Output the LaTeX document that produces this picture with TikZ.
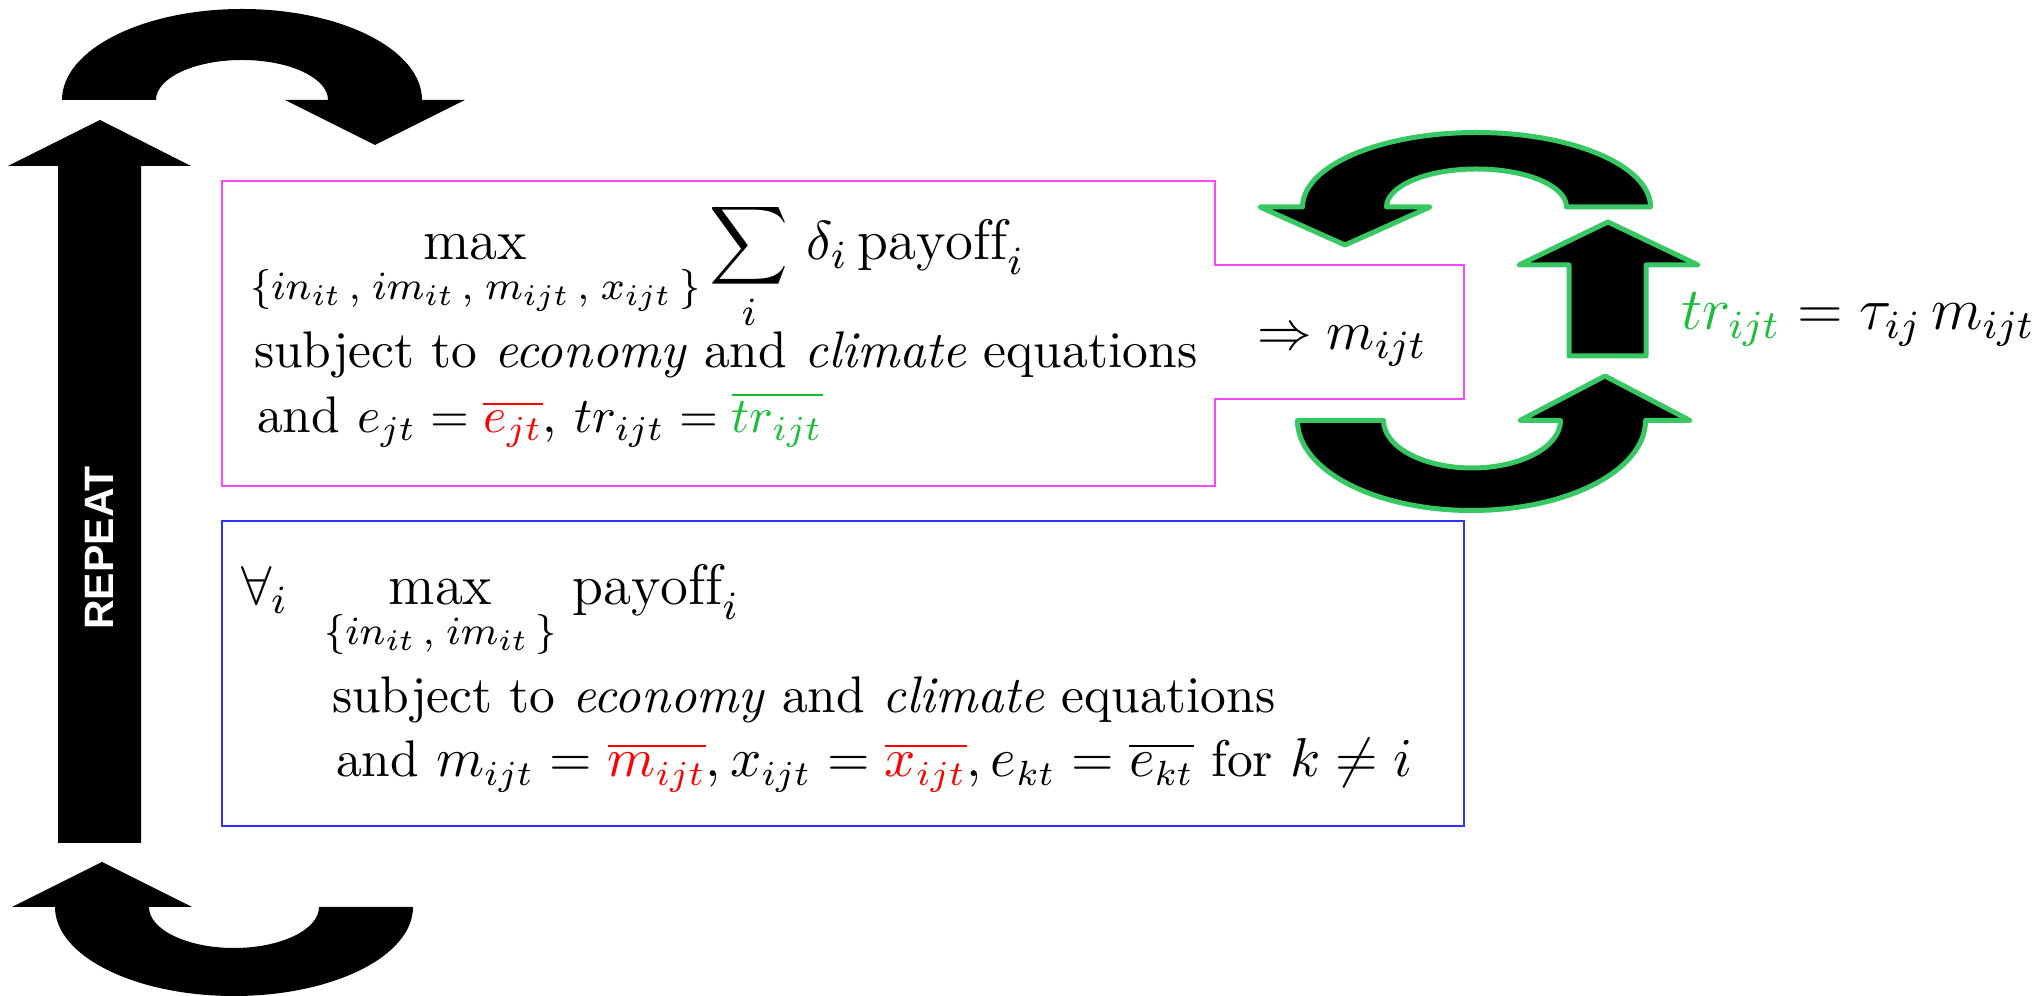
\documentclass[tikz,border=0pt]{standalone}
\usepackage{amsmath}
\usepackage{exscale}
\usepackage{fontspec}
\newfontfamily\repeatfont{Liberation Sans}
\newcommand\eqsize{\fontsize{10.7}{12.8}\selectfont}
\definecolor{boxpink}{RGB}{255,70,255}
\definecolor{boxblue}{RGB}{50,50,255}
\definecolor{edgegreen}{RGB}{55,200,100}
\definecolor{trgreen}{RGB}{25,190,55}

\begin{document}
\begin{tikzpicture}[x=0.2pt,y=0.2pt,
  blockarrow/.style={fill=black},
  greenarrow/.style={fill=black,draw=edgegreen,line width=1pt,line join=round},
  bigmath/.style={anchor=base west,inner sep=0pt,font=\fontsize{11.4}{13.7}\selectfont},
  bodytext/.style={anchor=base west,inner sep=0pt,font=\fontsize{10.3}{12.4}\selectfont}]
  \useasboundingbox (0,0) rectangle (2039,-996);
  \fill[blockarrow] (58,-843) -- (58,-166) -- (8,-166) -- (100,-120) -- (191,-166) -- (141,-166) -- (141,-843) -- cycle;
  \node[rotate=90,text=white,inner sep=0pt,font=\repeatfont\bfseries\fontsize{8.2}{10}\selectfont] (rep) at (99.5,-548) {REPEAT};
  \fill[blockarrow] (62,-100) arc[start angle=180,end angle=0,x radius=180,y radius=91] -- (465,-100) -- (375,-145) -- (285,-100) -- (328,-100) arc[start angle=0,end angle=180,x radius=86,y radius=40] -- cycle;
  \fill[blockarrow] (413,-907) arc[start angle=0,end angle=-180,x radius=179,y radius=89] -- (12,-907) -- (102,-862) -- (192,-907) -- (149,-907) arc[start angle=180,end angle=360,x radius=85,y radius=41] -- cycle;
  \draw[boxpink,line width=0.3pt] (222,-181) -- (1215,-181) -- (1215,-265) -- (1464,-265) -- (1464,-399) -- (1215,-399) -- (1215,-486) -- (222,-486) -- cycle;
  \node[bigmath] (maxTop) at (249,-260) {$\displaystyle\max_{\{in_{it}\,,\;im_{it}\,,\;m_{ijt}\,,\;x_{ijt}\,\}}\sum_i\,\delta_i\,\mathrm{payoff}_i$};
  \node[bodytext] (subjTop) at (253,-368) {subject to \emph{economy} and \emph{climate} equations};
  \node[bodytext] (andTop) at (256,-433) {and $e_{jt}=\textcolor{red}{\overline{e_{jt}}}$, $tr_{ijt}=\textcolor{trgreen}{\overline{tr_{ijt}}}$};
  \node[bigmath] (implies) at (1256,-350) {$\Rightarrow m_{ijt}$};
  \draw[boxblue,line width=0.3pt] (222,-521) rectangle (1464,-826);
  \node[bigmath] (forallB) at (240,-605) {$\forall_i$};
  \node[bigmath] (maxB) at (323,-605) {$\displaystyle\max_{\{in_{it}\,,\;im_{it}\,\}}\mskip2mu\mathrm{payoff}_i$};
  \node[bodytext] (subjB) at (331,-713) {subject to \emph{economy} and \emph{climate} equations};
  \node[bodytext] (andB) at (335,-777) {and {\eqsize$m_{ijt}=\textcolor{red}{\overline{m_{ijt}}},x_{ijt}=\textcolor{red}{\overline{x_{ijt}}},e_{kt}=\overline{e_{kt}}$} for {\eqsize$k\neq i$}};
  \draw[greenarrow] (1650.5,-207) arc[start angle=0,end angle=180,x radius=174,y radius=74.5] -- (1260,-207) -- (1345,-245) -- (1430,-207) -- (1386.5,-207) arc[start angle=180,end angle=0,x radius=90,y radius=38] -- cycle;
  \draw[greenarrow] (1569,-356) -- (1569,-265) -- (1519,-265) -- (1608,-222) -- (1698,-265) -- (1646,-265) -- (1646,-356) -- cycle;
  \draw[greenarrow] (1297.5,-420.5) arc[start angle=180,end angle=360,x radius=174,y radius=90] -- (1690,-420.5) -- (1605,-376) -- (1520,-420.5) -- (1560.5,-420.5) arc[start angle=0,end angle=-180,x radius=88.5,y radius=47.5] -- cycle;
  \node[bigmath,font=\fontsize{11.8}{14.2}\selectfont] (trRule) at (1680,-330) {$\textcolor{trgreen}{tr_{ijt}}=\tau_{ij}\,m_{ijt}$};
\end{tikzpicture}
\end{document}
